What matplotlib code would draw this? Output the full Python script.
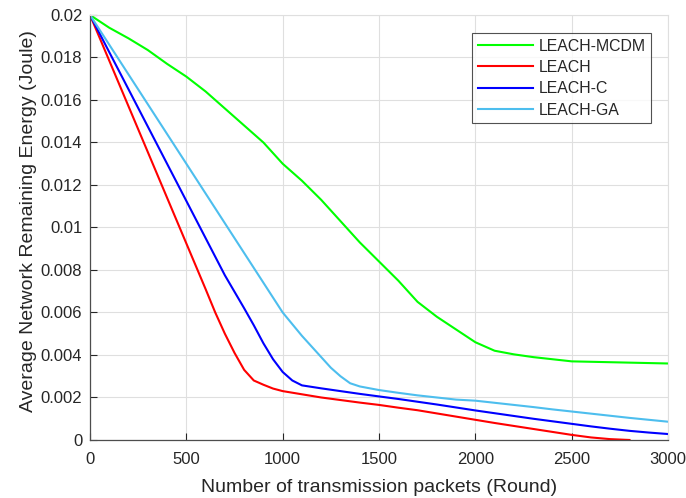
import matplotlib
matplotlib.use("Agg")
import matplotlib.pyplot as plt
import numpy as np

plt.rcParams['font.family'] = ['Liberation Sans', 'DejaVu Sans']

rounds_mcdm = [0, 100, 200, 300, 400, 500, 600, 700, 800, 900, 1000, 1100, 1200, 1300, 1400,
               1500, 1600, 1700, 1800, 1900, 2000, 2100, 2200, 2300, 2400, 2500, 2600, 2700,
               2800, 2900, 3000]
energy_mcdm = [0.0200, 0.0194, 0.0189, 0.01835, 0.0177, 0.0171, 0.0164, 0.0156, 0.0148, 0.0140,
               0.0130, 0.0122, 0.0113, 0.0103, 0.0093, 0.0084, 0.0075, 0.0065, 0.0058, 0.0052,
               0.0046, 0.0042, 0.00403, 0.0039, 0.0038, 0.0037, 0.00368, 0.00366, 0.00364,
               0.00362, 0.0036]

rounds_leach = [0, 100, 200, 300, 400, 500, 600, 650, 700, 750, 800, 850, 900, 950, 1000, 1100,
                1200, 1300, 1400, 1500, 1600, 1700, 1800, 1900, 2000, 2100, 2200, 2300, 2400,
                2500, 2600, 2700, 2800]
energy_leach = [0.0200, 0.01785, 0.0157, 0.01355, 0.0114, 0.00925, 0.0071, 0.0060, 0.0050,
                0.0041, 0.0033, 0.0028, 0.0026, 0.00242, 0.0023, 0.00215, 0.0020, 0.00188,
                0.00176, 0.00165, 0.00152, 0.0014, 0.00125, 0.0011, 0.00095, 0.0008, 0.00066,
                0.00052, 0.00038, 0.00024, 0.00012, 0.00004, 0.0]

rounds_c = [0, 100, 200, 300, 400, 500, 600, 700, 800, 850, 900, 950, 1000, 1050, 1100, 1200,
            1300, 1400, 1500, 1600, 1700, 1800, 1900, 2000, 2100, 2200, 2300, 2400, 2500, 2600,
            2700, 2800, 2900, 3000]
energy_c = [0.0200, 0.01825, 0.0165, 0.01475, 0.0130, 0.01125, 0.0095, 0.00775, 0.0062, 0.0054,
            0.00455, 0.0038, 0.0032, 0.0028, 0.00257, 0.00243, 0.0023, 0.00217, 0.00205, 0.00193,
            0.0018, 0.00167, 0.00153, 0.00139, 0.00126, 0.00113, 0.001, 0.00088, 0.00076,
            0.00064, 0.00053, 0.00043, 0.00035, 0.00028]

rounds_ga = [0, 100, 200, 300, 400, 500, 600, 700, 800, 900, 1000, 1100, 1150, 1200, 1250, 1300,
             1350, 1400, 1500, 1600, 1700, 1800, 1900, 2000, 2100, 2200, 2300, 2400, 2500, 2600,
             2700, 2800, 2900, 3000]
energy_ga = [0.0200, 0.0186, 0.0172, 0.0158, 0.0144, 0.0130, 0.0116, 0.0102, 0.0088, 0.0074,
             0.0060, 0.0049, 0.0044, 0.0039, 0.0034, 0.0030, 0.00267, 0.00252, 0.00235, 0.00222,
             0.0021, 0.0020, 0.0019, 0.00185, 0.00175, 0.00165, 0.00155, 0.00144, 0.00134,
             0.00124, 0.00114, 0.00104, 0.00095, 0.00086]

x_ticks = [0, 500, 1000, 1500, 2000, 2500, 3000]
y_ticks = [0, 0.002, 0.004, 0.006, 0.008, 0.01, 0.012, 0.014, 0.016, 0.018, 0.02]
y_tick_labels = ['0', '0.002', '0.004', '0.006', '0.008', '0.01', '0.012', '0.014', '0.016',
                 '0.018', '0.02']

fig = plt.figure(figsize=(6.86, 4.98), dpi=100)
ax = fig.add_axes([0.1312, 0.1165, 0.8426, 0.8534])

ax.plot(rounds_mcdm, energy_mcdm, color='#00FF00', lw=1.5, label='LEACH-MCDM')
ax.plot(rounds_leach, energy_leach, color='#FF0000', lw=1.5, label='LEACH')
ax.plot(rounds_c, energy_c, color='#0000FF', lw=1.5, label='LEACH-C')
ax.plot(rounds_ga, energy_ga, color='#4DBEEE', lw=1.5, label='LEACH-GA')

ax.set_xlim(0, 3000)
ax.set_ylim(0, 0.02)
ax.set_xticks(x_ticks)
ax.set_yticks(y_ticks)
ax.set_yticklabels(y_tick_labels)
ax.grid(True, color='#DFDFDF', lw=0.8)
ax.set_axisbelow(True)
ax.tick_params(direction='in', length=5, colors='#262626', labelsize=12, width=0.8)
ax.tick_params(axis='x', pad=9)
ax.tick_params(axis='y', pad=5.5)
for side in ['left', 'bottom']:
    ax.spines[side].set_color('#4D4D4D')
    ax.spines[side].set_linewidth(0.9)
for side in ['top', 'right']:
    ax.spines[side].set_color('#DFDFDF')
    ax.spines[side].set_linewidth(0.8)
ax.set_xlabel('Number of transmission packets (Round)', fontsize=14, color='#262626', labelpad=8)
ax.set_ylabel('Average Network Remaining Energy (Joule)', fontsize=14, color='#262626', labelpad=3)
ax.yaxis.label.set_y(0.514)

leg = ax.legend(loc='upper right', bbox_to_anchor=(0.9706, 0.9576), fontsize=11.4,
                frameon=True, fancybox=False, edgecolor='#262626', handlelength=3.5,
                handletextpad=0.35, borderaxespad=0, labelspacing=0.4, borderpad=0.35)
leg.get_frame().set_linewidth(0.8)
for t in leg.get_texts():
    t.set_color('#262626')

fig.savefig('out.png', dpi=100)
